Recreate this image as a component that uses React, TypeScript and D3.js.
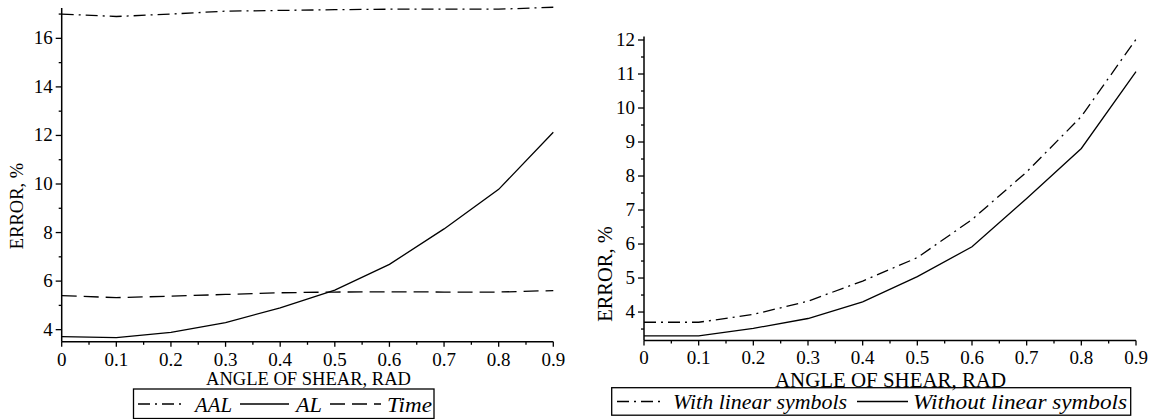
import React from "react";
import * as d3 from "d3";

const xs = [0, 0.1, 0.2, 0.3, 0.4, 0.5, 0.6, 0.7, 0.8, 0.9];
const aal = [17.0, 16.9, 17.0, 17.12, 17.15, 17.18, 17.2, 17.2, 17.2, 17.28];
const al = [3.71, 3.67, 3.89, 4.29, 4.9, 5.63, 6.69, 8.15, 9.78, 12.13];
const time = [5.4, 5.32, 5.38, 5.45, 5.52, 5.55, 5.56, 5.55, 5.55, 5.61];

const withLin = [3.7, 3.7, 3.93, 4.32, 4.91, 5.6, 6.72, 8.12, 9.75, 12.02];
const withoutLin = [3.3, 3.3, 3.52, 3.81, 4.3, 5.04, 5.92, 7.34, 8.81, 11.07];

const xTicks = [0, 0.1, 0.2, 0.3, 0.4, 0.5, 0.6, 0.7, 0.8, 0.9];
const xMinor = [0.05, 0.15, 0.25, 0.35, 0.45, 0.55, 0.65, 0.75, 0.85];
const leftYTicks = [4, 6, 8, 10, 12, 14, 16];
const leftYMinor = [5, 7, 9, 11, 13, 15, 17];
const rightYTicks = [4, 5, 6, 7, 8, 9, 10, 11, 12];
const rightYMinor = [3.5, 4.5, 5.5, 6.5, 7.5, 8.5, 9.5, 10.5, 11.5];

const FONT = "Liberation Serif, Times New Roman, Times, DejaVu Serif, Noto Serif, serif";
const DASHDOT = "12,5,2,5";
const DASH = "15,7";

function Panel({ x0, x1, yScale, yTicks, yMinor, series, tickFont, labelFont, yLabelX, yLabelY, xTitleX, xTitleY, xTitleLen, xTickY }) {
  const x = d3.scaleLinear().domain([0, 0.9]).range([x0, x1]);
  const [yb, yt] = yScale.range();
  const line = (vals) =>
    d3.line<number>().x((_, i) => x(xs[i])).y((v) => yScale(v))(vals) as string;
  return (
    <g style={{ fontFamily: FONT }}>
      {series.map((s, i) => (
        <path key={i} d={line(s.vals)} fill="none" stroke="#000" strokeWidth={1.3} strokeDasharray={s.dash} />
      ))}
      <line x1={x0} x2={x0} y1={yb} y2={yt} stroke="#000" strokeWidth={1.5} />
      <line x1={x0} x2={x1} y1={yb} y2={yb} stroke="#000" strokeWidth={1.5} />
      {yTicks.map((t) => (
        <g key={"y" + t}>
          <line x1={x0 - 6} x2={x0} y1={yScale(t)} y2={yScale(t)} stroke="#000" strokeWidth={1.3} />
          <text x={x0 - 9} y={yScale(t) + 6} textAnchor="end" fontSize={tickFont}>{t}</text>
        </g>
      ))}
      {yMinor.filter((t) => yScale(t) >= yt - 0.5).map((t) => (
        <line key={"ym" + t} x1={x0 - 3} x2={x0} y1={yScale(t)} y2={yScale(t)} stroke="#000" strokeWidth={1.3} />
      ))}
      {xTicks.map((t) => (
        <g key={"x" + t}>
          <line x1={x(t)} x2={x(t)} y1={yb} y2={yb + 5} stroke="#000" strokeWidth={1.3} />
          <text x={x(t)} y={xTickY} textAnchor="middle" fontSize={tickFont}>{t}</text>
        </g>
      ))}
      {xMinor.map((t) => (
        <line key={"xm" + t} x1={x(t)} x2={x(t)} y1={yb} y2={yb + 3} stroke="#000" strokeWidth={1.3} />
      ))}
      <text x={xTitleX} y={xTitleY} textAnchor="middle" fontSize={labelFont} textLength={xTitleLen} lengthAdjust="spacingAndGlyphs">ANGLE OF SHEAR, RAD</text>
      <text transform={`translate(${yLabelX},${yLabelY}) rotate(-90)`} textAnchor="middle" fontSize={labelFont}>ERROR, %</text>
    </g>
  );
}

export default function App() {
  const yLeft = d3.scaleLinear().domain([3.5, 17.25]).range([341.8, 8]);
  const yRight = d3.scaleLinear().domain([3.16, 12.1]).range([340.6, 36.6]);
  const legFont = 21.5;
  const it = { fontSize: legFont, fontStyle: "italic" as const, fontFamily: FONT };
  return (
    <svg width={1153} height={419} style={{ position: "absolute", left: 0, top: 0, background: "#fff", fontFamily: FONT }}>
      <rect x={0} y={0} width={1153} height={419} fill="#fff" />
      <Panel
        x0={61.7} x1={553.3} yScale={yLeft} yTicks={leftYTicks} yMinor={leftYMinor}
        series={[{ vals: aal, dash: DASHDOT }, { vals: al, dash: null }, { vals: time, dash: DASH }]}
        tickFont={19} labelFont={18.5} yLabelX={23} yLabelY={206} xTitleX={308.5} xTitleY={385} xTitleLen={205} xTickY={366}
      />
      <Panel
        x0={644} x1={1136} yScale={yRight} yTicks={rightYTicks} yMinor={rightYMinor}
        series={[{ vals: withLin, dash: DASHDOT }, { vals: withoutLin, dash: null }]}
        tickFont={19} labelFont={20.5} yLabelX={612} yLabelY={274} xTitleX={890.5} xTitleY={386.5} xTitleLen={231} xTickY={364}
      />
      <rect x={133.5} y={389} width={300.5} height={29.5} fill="none" stroke="#000" strokeWidth={1.3} />
      <line x1={138} x2={185} y1={404} y2={404} stroke="#000" strokeWidth={1.3} strokeDasharray={DASHDOT} />
      <text x={195} y={411.5} style={it} textLength={37} lengthAdjust="spacingAndGlyphs">AAL</text>
      <line x1={240} x2={289} y1={404} y2={404} stroke="#000" strokeWidth={1.3} />
      <text x={296} y={411.5} style={it} textLength={26} lengthAdjust="spacingAndGlyphs">AL</text>
      <line x1={330} x2={381} y1={404} y2={404} stroke="#000" strokeWidth={1.3} strokeDasharray={DASH} />
      <text x={387} y={411.5} style={it} textLength={45} lengthAdjust="spacingAndGlyphs">Time</text>
      <rect x={611.7} y={387.7} width={519} height={27.5} fill="none" stroke="#000" strokeWidth={1.3} />
      <line x1={617} x2={662} y1={401.5} y2={401.5} stroke="#000" strokeWidth={1.3} strokeDasharray={DASHDOT} />
      <text x={673} y={408.5} style={it} textLength={174} lengthAdjust="spacingAndGlyphs">With linear symbols</text>
      <line x1={857} x2={908} y1={401.5} y2={401.5} stroke="#000" strokeWidth={1.3} />
      <text x={913} y={408.5} style={it} textLength={214} lengthAdjust="spacingAndGlyphs">Without linear symbols</text>
    </svg>
  );
}
